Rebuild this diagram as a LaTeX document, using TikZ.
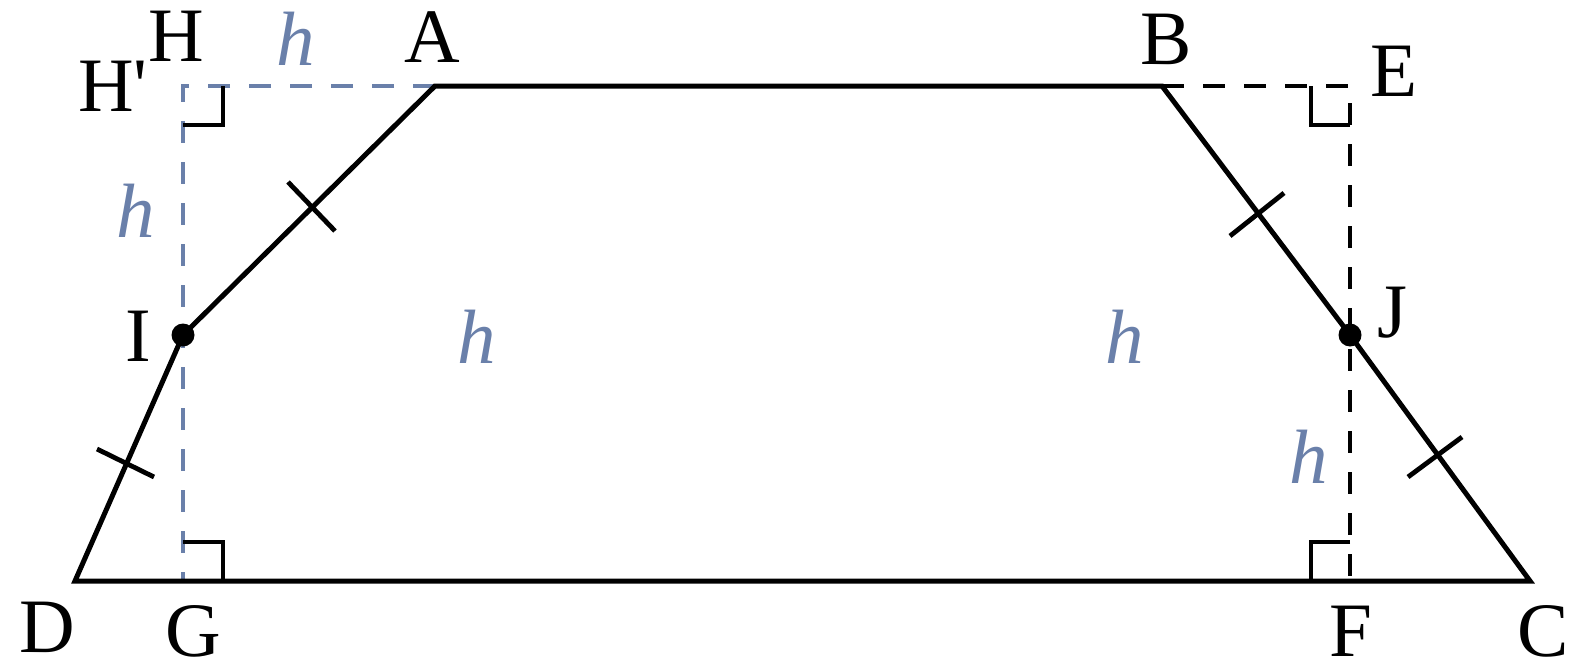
\documentclass[tikz,border=0pt]{standalone}
\usepackage{fontspec}
\setmainfont{Liberation Serif}
\definecolor{hblue}{RGB}{106,128,170}
\begin{document}
\begin{tikzpicture}[x=1pt,y=-1pt,
  lbl/.style={font=\fontsize{77}{80}\selectfont, inner sep=0pt},
  hl/.style={font=\fontsize{77}{80}\selectfont\itshape, text=hblue, inner sep=0pt},
  edge/.style={line width=5pt, line join=miter},
  tickln/.style={line width=4.8pt},
  bdash/.style={line width=4.8pt, dash pattern=on 22pt off 19pt},
  dot/.style={circle, fill=black, inner sep=0pt, minimum size=23pt}]
\useasboundingbox (0,0) rectangle (1572,672);
% points
\coordinate (D) at (75,581);
\coordinate (C) at (1530,581);
\coordinate (A) at (435,86);
\coordinate (B) at (1162,86);
\coordinate (I) at (183,335);
\coordinate (J) at (1350,335);
\coordinate (H) at (183,86);
\coordinate (E) at (1350,86);
\coordinate (G) at (183,581);
\coordinate (F) at (1350,581);
% dashed helper lines
\draw[bdash, hblue] (A) -- (H) -- (G);
\draw[bdash] (B) -- (E) -- (F);
% right angle marks
\draw[tickln] (223,86) -- (223,125) -- (183,125);
\draw[tickln] (183,542) -- (223,542) -- (223,581);
\draw[tickln] (1311,86) -- (1311,125) -- (1350,125);
\draw[tickln] (1350,542) -- (1311,542) -- (1311,581);
% trapezoid
\draw[edge] (A) -- (B) -- (J) -- (C) -- (D) -- (I) -- cycle;
% ticks
\draw[tickln] (288,182) -- (335,231);
\draw[tickln] (97,449) -- (154,477);
\draw[tickln] (1230,236) -- (1284,193);
\draw[tickln] (1408,477) -- (1462,437);
% dots
\node[dot] (Idot) at (I) {};
\node[dot] (Jdot) at (J) {};
% labels
\node[lbl] (lH) at (176,36) {H};
\node[lbl] (lHp) at (113,86) {H\textquotesingle};
\node[lbl] (lA) at (432,37) {A};
\node[lbl] (lB) at (1166,39) {B};
\node[lbl] (lE) at (1394,71) {E};
\node[lbl] (lI) at (138,336) {I};
\node[lbl] (lJ) at (1392,313) {J};
\node[lbl] (lD) at (47,627) {D};
\node[lbl] (lG) at (193,631) {G};
\node[lbl] (lF) at (1351,631) {F};
\node[lbl] (lC) at (1543,631) {C};
\node[hl] (h1) at (296,39) {h};
\node[hl] (h2) at (136,211) {h};
\node[hl] (h3) at (477,337) {h};
\node[hl] (h4) at (1125,337) {h};
\node[hl] (h5) at (1309,457) {h};
\end{tikzpicture}
\end{document}
